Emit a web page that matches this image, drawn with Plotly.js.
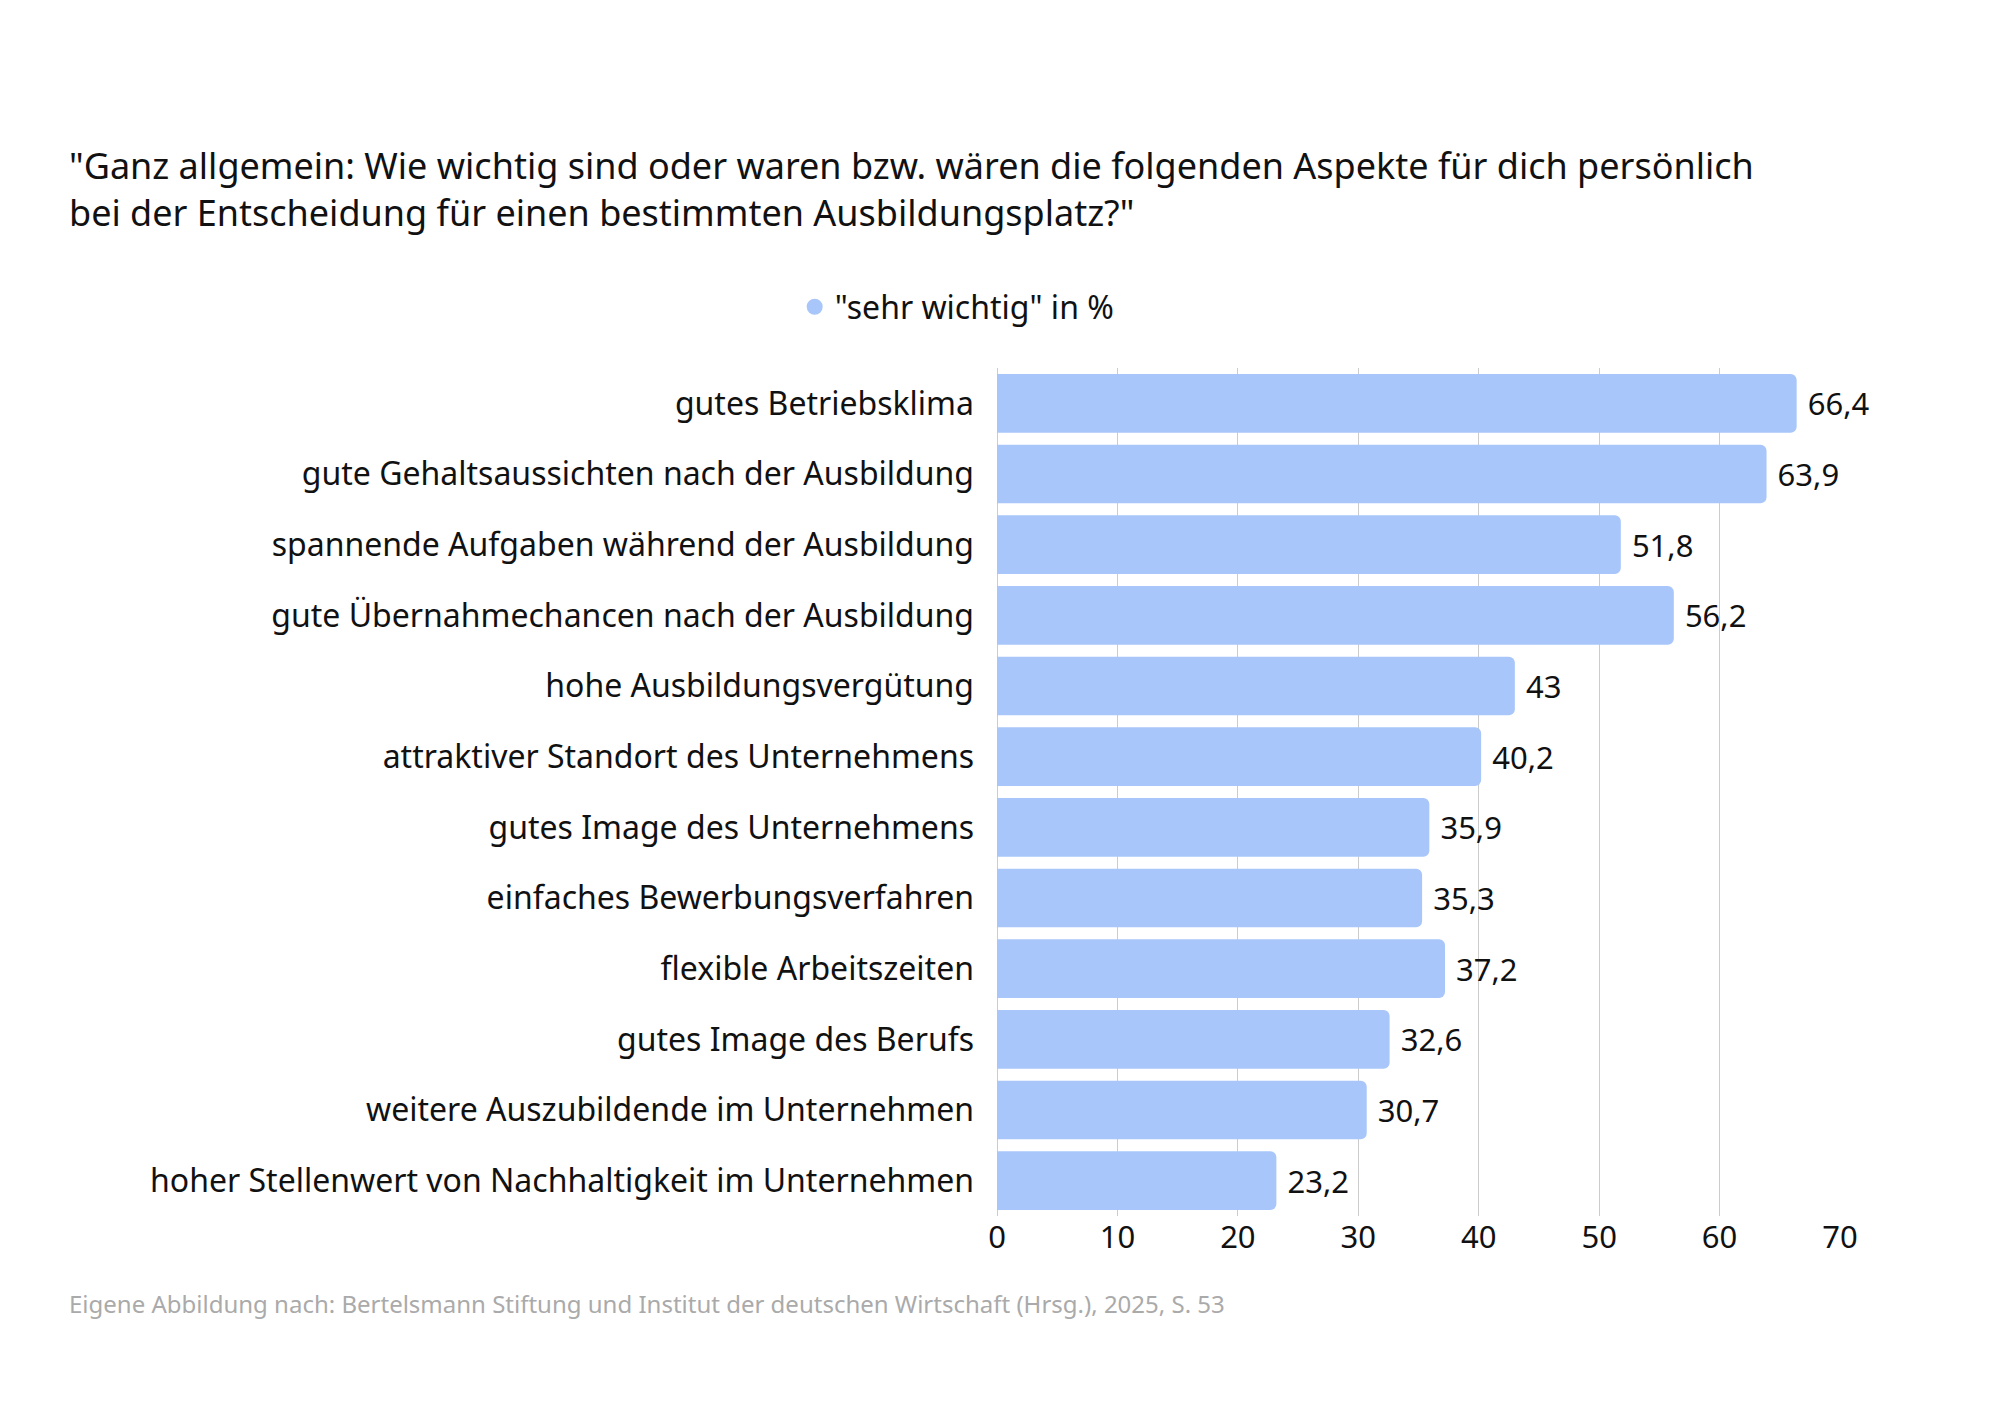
<!DOCTYPE html>
<html>
<head>
<meta charset="utf-8">
<script src="https://cdn.plot.ly/plotly-3.0.1.min.js"></script>
<style>body{margin:0;background:#fff}</style>
</head>
<body>
<div id="chart" style="width:2000px;height:1414px"></div>
<script>
// aspects, top to bottom as in the original chart
let aspects = [
  "gutes Betriebsklima",
  "gute Gehaltsaussichten nach der Ausbildung",
  "spannende Aufgaben während der Ausbildung",
  "gute Übernahmechancen nach der Ausbildung",
  "hohe Ausbildungsvergütung",
  "attraktiver Standort des Unternehmens",
  "gutes Image des Unternehmens",
  "einfaches Bewerbungsverfahren",
  "flexible Arbeitszeiten",
  "gutes Image des Berufs",
  "weitere Auszubildende im Unternehmen",
  "hoher Stellenwert von Nachhaltigkeit im Unternehmen"
];
let sehrWichtig = [66.4, 63.9, 51.8, 56.2, 43, 40.2, 35.9, 35.3, 37.2, 32.6, 30.7, 23.2];
let xTicks = [0, 10, 20, 30, 40, 50, 60, 70];
let seriesName = '"sehr wichtig" in %';

let font = "'Noto Sans', Lato, sans-serif";
let barColor = "#a8c6fa";

let bars = {
  type: "bar",
  orientation: "h",
  x: sehrWichtig,
  y: aspects,
  showlegend: false,
  marker: { color: barColor, cornerradius: 6 },
  text: sehrWichtig.map((v) => "\u00a0" + String(v).replace(".", ",")),
  textposition: "outside",
  textfont: { size: 31, color: "#111", family: font },
  cliponaxis: false,
  hoverinfo: "x+y",
};

// legend-only entry so the legend gets a big round dot
let legendDot = {
  type: "scatter",
  mode: "markers",
  x: [null],
  y: [null],
  name: seriesName,
  marker: { color: barColor, size: 32, symbol: "circle" },
};

let layout = {
  width: 2000,
  height: 1414,
  paper_bgcolor: "#fff",
  plot_bgcolor: "#fff",
  font: { family: font, color: "#111", size: 31 },
  margin: { l: 997, r: 160, t: 368, b: 198 },
  bargap: 0.17,
  showlegend: true,
  legend: {
    orientation: "h",
    x: -0.24,
    xref: "paper",
    xanchor: "left",
    y: 1.072,
    yanchor: "middle",
    font: { size: 32 },
  },
  xaxis: {
    range: [0, 70],
    tickvals: xTicks,
    showgrid: true,
    gridcolor: "#cccccc",
    zeroline: true,
    zerolinecolor: "#cccccc",
    tickfont: { size: 31 },
    ticks: "",
    fixedrange: true,
  },
  yaxis: {
    autorange: "reversed",
    ticks: "",
    ticklabelstandoff: 22,
    tickfont: { size: 32 },
    fixedrange: true,
  },
  annotations: [
    {
      text: '"Ganz allgemein: Wie wichtig sind oder waren bzw. wären die folgenden Aspekte für dich persönlich<br>bei der Entscheidung für einen bestimmten Ausbildungsplatz?"',
      xref: "paper", yref: "paper", x: -930 / 843, y: 1.211,
      xanchor: "left", yanchor: "middle", align: "left", showarrow: false,
      font: { size: 36, color: "#111" },
    },
    {
      text: "Eigene Abbildung nach: Bertelsmann Stiftung und Institut der deutschen Wirtschaft (Hrsg.), 2025, S. 53",
      xref: "paper", yref: "paper", x: -930 / 843, y: -0.103,
      xanchor: "left", yanchor: "middle", align: "left", showarrow: false,
      font: { size: 24, color: "#aaaaaa" },
    },
  ],
};

Plotly.newPlot("chart", [bars, legendDot], layout, { staticPlot: true, displayModeBar: false });
</script>
</body>
</html>
